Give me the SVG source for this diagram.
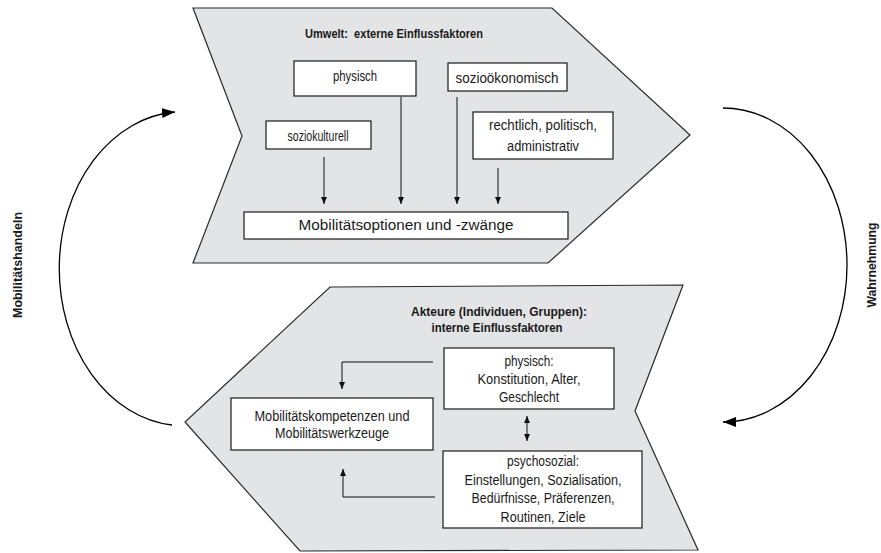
<svg xmlns="http://www.w3.org/2000/svg" width="881" height="553" viewBox="0 0 881 553">
<style>
.chev{fill:#e3e4e5;stroke:#2a2a2a;stroke-width:1.2}
.box{fill:#fff;stroke:#1a1a1a;stroke-width:1.2}
text{font-family:"Liberation Sans",Arial,sans-serif;font-size:14px;fill:#1a1a1a;text-anchor:middle}
.b{font-weight:bold;font-size:13.5px}
.ln{fill:none;stroke:#111;stroke-width:1}
.cv{fill:none;stroke:#000;stroke-width:1.3}
</style>
<defs>
<marker id="ah" markerUnits="userSpaceOnUse" markerWidth="8" markerHeight="8" refX="7" refY="3" orient="auto">
<path d="M0,0 L7,3 L0,6 z" fill="#111"/>
</marker>
<marker id="ahs" markerUnits="userSpaceOnUse" markerWidth="8" markerHeight="8" refX="7" refY="3" orient="auto-start-reverse">
<path d="M0,0 L7,3 L0,6 z" fill="#111"/>
</marker>
<marker id="big" markerUnits="userSpaceOnUse" markerWidth="14" markerHeight="12" refX="13" refY="5" orient="auto">
<path d="M0,0 L13,5 L0,10 z" fill="#000"/>
</marker>
</defs>

<g id="umwelt">
<polygon class="chev" points="193,8 552,8 690,135 548,263 193,263 242,136"/>
<text class="b" x="394" y="38" textLength="178" lengthAdjust="spacingAndGlyphs" style="white-space:pre">Umwelt:  externe Einflussfaktoren</text>
</g>
<g id="u-physisch">
<rect class="box" x="294" y="61" width="122" height="35"/>
<text x="355" y="81" textLength="44" lengthAdjust="spacingAndGlyphs">physisch</text>
</g>
<g id="u-soziooekonomisch">
<rect class="box" x="448" y="63" width="119" height="28"/>
<text x="507" y="83" textLength="103" lengthAdjust="spacingAndGlyphs">sozioökonomisch</text>
</g>
<g id="u-soziokulturell">
<rect class="box" x="266" y="121" width="105" height="28"/>
<text x="318" y="141" textLength="61" lengthAdjust="spacingAndGlyphs">soziokulturell</text>
</g>
<g id="u-rechtlich">
<rect class="box" x="473" y="112" width="140" height="47"/>
<text x="543" y="130" textLength="108" lengthAdjust="spacingAndGlyphs">rechtlich, politisch,</text>
<text x="543" y="151" textLength="72" lengthAdjust="spacingAndGlyphs">administrativ</text>
</g>
<g id="u-optionen">
<rect class="box" x="244" y="212" width="324" height="27"/>
<text x="406" y="230" textLength="215" lengthAdjust="spacingAndGlyphs">Mobilitätsoptionen und -zwänge</text>
</g>

<g id="akteure">
<polygon class="chev" points="330,287 683,285 635,411 698,550 300,551 185,422"/>
<text class="b" x="499" y="316" textLength="176" lengthAdjust="spacingAndGlyphs">Akteure (Individuen, Gruppen):</text>
<text class="b" x="497" y="332" textLength="131" lengthAdjust="spacingAndGlyphs">interne Einflussfaktoren</text>
</g>
<g id="a-physisch">
<rect class="box" x="444" y="348" width="170" height="61"/>
<text x="529" y="366" textLength="49" lengthAdjust="spacingAndGlyphs">physisch:</text>
<text x="529" y="384" textLength="103" lengthAdjust="spacingAndGlyphs">Konstitution, Alter,</text>
<text x="529" y="402" textLength="60" lengthAdjust="spacingAndGlyphs">Geschlecht</text>
</g>
<g id="a-kompetenzen">
<rect class="box" x="231" y="398" width="202" height="52"/>
<text x="332" y="421" textLength="155" lengthAdjust="spacingAndGlyphs">Mobilitätskompetenzen und</text>
<text x="332" y="438" textLength="114" lengthAdjust="spacingAndGlyphs">Mobilitätswerkzeuge</text>
</g>
<g id="a-psychosozial">
<rect class="box" x="443" y="451" width="199" height="77"/>
<text x="543" y="466" textLength="72" lengthAdjust="spacingAndGlyphs">psychosozial:</text>
<text x="543" y="485" textLength="157" lengthAdjust="spacingAndGlyphs">Einstellungen, Sozialisation,</text>
<text x="543" y="503" textLength="143" lengthAdjust="spacingAndGlyphs">Bedürfnisse, Präferenzen,</text>
<text x="543" y="522" textLength="85" lengthAdjust="spacingAndGlyphs">Routinen, Ziele</text>
</g>

<g id="connectors">
<path class="ln" d="M324,157 V204" marker-end="url(#ah)"/>
<path class="ln" d="M401,97 V204" marker-end="url(#ah)"/>
<path class="ln" d="M457,97 V204" marker-end="url(#ah)"/>
<path class="ln" d="M498,168 V204" marker-end="url(#ah)"/>
<path class="ln" d="M433,362 H342 V389" marker-end="url(#ah)"/>
<path class="ln" d="M435,497 H343 V469" marker-end="url(#ah)"/>
<path class="ln" d="M527,416 V441" marker-start="url(#ahs)" marker-end="url(#ah)"/>
<path class="cv" d="M172,425 A124 157 0 0 1 175,112" marker-end="url(#big)"/>
<path class="cv" d="M723,108 A124 157 0 0 1 723,422" marker-end="url(#big)"/>
</g>

<g id="labels">
<text class="b" transform="translate(22,265) rotate(-90)" style="font-size:12.5px" textLength="106" lengthAdjust="spacingAndGlyphs">Mobilitätshandeln</text>
<text class="b" transform="translate(876,265) rotate(-90)" style="font-size:12.5px" textLength="85" lengthAdjust="spacingAndGlyphs">Wahrnehmung</text>
</g>
</svg>
